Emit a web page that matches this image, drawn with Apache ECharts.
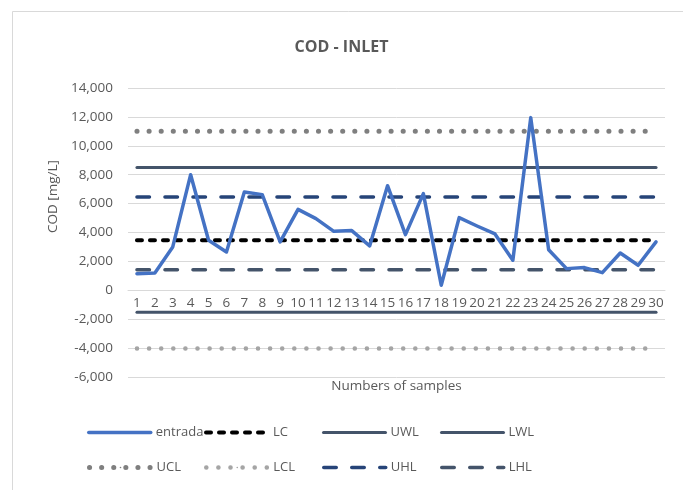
<!DOCTYPE html>
<html>
<head>
<meta charset="utf-8">
<script src="https://cdn.jsdelivr.net/npm/echarts@6/dist/echarts.min.js"></script>
<style>
  html, body { margin: 0; padding: 0; background: #fff; }
  #main { width: 683px; height: 490px; }
</style>
</head>
<body>
<div id="main"></div>
<script>
// samples 1..30
var samples = ['1','2','3','4','5','6','7','8','9','10','11','12','13','14','15',
  '16','17','18','19','20','21','22','23','24','25','26','27','28','29','30'];
var entrada = [1150, 1200, 3000, 8000, 3460, 2650, 6800, 6620, 3350, 5600,
  4960, 4080, 4130, 3070, 7240, 3850, 6690, 350, 5030, 4450,
  3900, 2080, 11950, 2810, 1500, 1570, 1220, 2580, 1730, 3350];

// control limits (constant across samples)
var LC = 3460;
var UWL = 8500;
var LWL = -1520;
var UCL = 11000;
var LCL = -4020;
var UHL = 6460;
var LHL = 1430;

var legendNames = ['entrada', 'LC', 'UWL', 'LWL', 'UCL', 'LCL', 'UHL', 'LHL'];
var yTicks = { min: -6000, max: 14000, step: 2000 };

function flat(v) {
  return samples.map(function () { return v; });
}

var txt = '#595959';
var font = 'Open Sans';

// line styles per series
var styles = {
  entrada: { color: '#4472c4', width: 3.5, type: 'solid' },
  LC:  { color: '#000000', width: 4, type: [5, 8] },
  UWL: { color: '#44546a', width: 3, type: 'solid' },
  LWL: { color: '#44546a', width: 3, type: 'solid' },
  UCL: { color: '#7f7f7f', width: 5, type: [0.1, 12] },
  LCL: { color: '#a5a5a5', width: 4.5, type: [0.1, 12] },
  UHL: { color: '#264478', width: 3.5, type: [12.5, 15.5] },
  LHL: { color: '#44546a', width: 3.5, type: [12.5, 15.5] }
};

function lineStyleOf(name) {
  var s = styles[name];
  return { color: s.color, width: s.width, type: s.type, cap: 'round', join: 'round' };
}

function limitSeries(name, value) {
  return {
    name: name,
    type: 'line',
    data: flat(value),
    symbol: 'none',
    showSymbol: false,
    silent: true,
    lineStyle: lineStyleOf(name),
    itemStyle: { color: styles[name].color }
  };
}

// one legend per entry, laid out as a 4x2 grid like the original
var legendCols = [82, 199, 317, 435];
var legendRows = [421, 456];
var legends = legendNames.map(function (n, i) {
  return {
    data: [n],
    left: legendCols[i % 4],
    top: legendRows[Math.floor(i / 4)],
    itemWidth: 62, itemHeight: 2,
    lineStyle: lineStyleOf(n),
    textStyle: { color: txt, fontSize: 13, fontFamily: font }
  };
});

var myChart = echarts.init(document.getElementById('main'));
var option = {
  animation: false,
  backgroundColor: '#fff',
  title: {
    text: 'COD - INLET',
    left: 'center',
    top: 34,
    textStyle: { color: txt, fontSize: 16, fontWeight: 'bold', fontFamily: font }
  },
  graphic: [{
    type: 'rect',
    shape: { x: 12.5, y: 11.5, width: 720, height: 520 },
    style: { fill: 'none', stroke: '#d9d9d9', lineWidth: 1 },
    silent: true
  }],
  legend: legends,
  grid: { left: 128, right: 18, top: 88, bottom: 113, containLabel: false },
  xAxis: {
    type: 'category',
    data: samples,
    boundaryGap: true,
    // category labels sit at the zero line, as in the original
    offset: -87,
    name: 'Numbers of samples',
    nameLocation: 'middle',
    nameGap: 89,
    nameMoveOverlap: false,
    nameTextStyle: { color: txt, fontSize: 13.5, fontFamily: font },
    axisLine: { show: true, onZero: false, lineStyle: { color: '#d9d9d9', width: 1 } },
    axisTick: { show: false },
    axisLabel: { color: txt, fontSize: 13.5, fontFamily: font, interval: 0, margin: 6 }
  },
  yAxis: {
    type: 'value',
    min: yTicks.min, max: yTicks.max, interval: yTicks.step,
    name: 'COD [mg/L]',
    nameLocation: 'middle',
    nameGap: 56,
    nameTextStyle: { color: txt, fontSize: 13.5, fontFamily: font, padding: [0, 0, 0, 72] },
    axisLine: { show: false },
    axisTick: { show: false },
    axisLabel: {
      color: txt, fontSize: 13.5, fontFamily: font, margin: 15,
      formatter: function (v) { return v.toLocaleString('en-US'); }
    },
    splitLine: { lineStyle: { color: '#d9d9d9', width: 1 } }
  },
  series: [
    {
      name: 'entrada',
      type: 'line',
      data: entrada,
      symbol: 'none',
      showSymbol: false,
      z: 5,
      lineStyle: lineStyleOf('entrada'),
      itemStyle: { color: styles.entrada.color }
    },
    limitSeries('LC', LC),
    limitSeries('UWL', UWL),
    limitSeries('LWL', LWL),
    limitSeries('UCL', UCL),
    limitSeries('LCL', LCL),
    limitSeries('UHL', UHL),
    limitSeries('LHL', LHL)
  ]
};
myChart.setOption(option);
window.addEventListener('resize', function () {
  myChart.resize();
});
</script>
</body>
</html>
